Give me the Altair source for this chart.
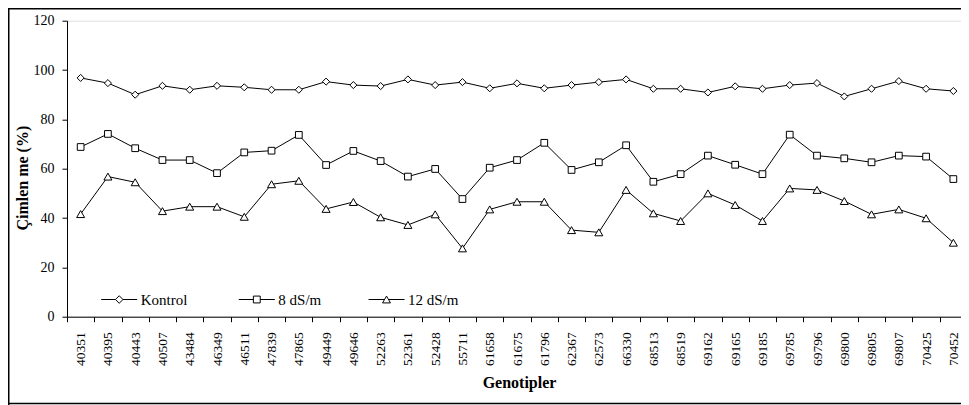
import altair as alt
import pandas as pd

genotypes = ["40351", "40395", "40443", "40507", "43484", "46349", "46511", "47839",
             "47865", "49449", "49646", "52263", "52361", "52428", "55711", "61658",
             "61675", "61796", "62367", "62573", "66330", "68513", "68519", "69162",
             "69165", "69185", "69785", "69796", "69800", "69805", "69807", "70425",
             "70452"]

kontrol = [96.8, 94.7, 90.0, 93.6, 92.0, 93.6, 93.0, 92.0, 92.0, 95.3, 93.9, 93.5,
           96.2, 93.9, 95.1, 92.6, 94.6, 92.6, 93.9, 95.1, 96.2, 92.4, 92.4, 90.9,
           93.4, 92.4, 93.9, 94.7, 89.3, 92.4, 95.5, 92.4, 91.5]

ds8 = [68.8, 74.1, 68.3, 63.5, 63.5, 58.2, 66.6, 67.3, 73.7, 61.5, 67.2, 63.1,
       56.8, 59.9, 47.7, 60.4, 63.5, 70.5, 59.5, 62.6, 69.5, 54.7, 57.8, 65.3,
       61.6, 57.8, 73.8, 65.3, 64.2, 62.6, 65.3, 64.9, 55.8]

ds12 = [41.6, 56.8, 54.5, 42.8, 44.6, 44.6, 40.5, 53.7, 55.1, 43.7, 46.5, 40.3,
        37.2, 41.5, 27.7, 43.5, 46.6, 46.6, 35.1, 34.2, 51.4, 41.9, 38.8, 50.0,
        45.3, 38.8, 52.0, 51.4, 46.9, 41.5, 43.5, 39.9, 30.0]

series_names = ["Kontrol", "8 dS/m", "12 dS/m"]
y_ticks = [0, 20, 40, 60, 80, 100, 120]

rows = []
for name, vals in zip(series_names, [kontrol, ds8, ds12]):
    for g, v in zip(genotypes, vals):
        rows.append({"Genotip": g, "Seri": name, "Deger": v})
df = pd.DataFrame(rows)

FONT = "Liberation Serif"

# marker style per series: (shape, size, legend symbol path, legend x)
styles = {
    "Kontrol": ("diamond", 50,
                "M-1,0L-0.21,0M0.21,0L1,0M-0.21,0L0,-0.21L0.21,0L0,0.21Z", 33.7),
    "8 dS/m": ("square", 45,
               "M-1,0L-0.19,0M0.19,0L1,0M-0.19,-0.19L0.19,-0.19L0.19,0.19L-0.19,0.19Z", 171.3),
    "12 dS/m": ("triangle-up", 64,
                "M-1,0L-0.11,0M0.11,0L1,0M0,-0.19L0.22,0.19L-0.22,0.19Z", 301),
}

x_enc = alt.X(
    "Genotip:N",
    sort=genotypes,
    scale=alt.Scale(type="band", paddingInner=0, paddingOuter=0, range=[0, 900]),
    axis=alt.Axis(
        title="Genotipler",
        labelAngle=270,
        tickBand="extent",
        tickSize=5,
        labelPadding=10,
        labelFontSize=13.5,
        labelFont=FONT,
        labelColor="black",
        titleFont=FONT,
        titleFontSize=16,
        titleFontWeight="bold",
        titleColor="black",
        titleBaseline="alphabetic",
        titleX=452,
        titleY=71,
        domainColor="black",
        tickColor="black",
        grid=False,
    ),
)

y_enc = alt.Y(
    "Deger:Q",
    scale=alt.Scale(domain=[0, 120], nice=False),
    axis=alt.Axis(
        title="Çimlen me (%)",
        values=y_ticks,
        tickSize=5,
        labelPadding=8,
        labelFontSize=14,
        labelFont=FONT,
        labelColor="black",
        titleFont=FONT,
        titleFontSize=16,
        titleFontWeight="bold",
        titleColor="black",
        titleAngle=270,
        titleBaseline="alphabetic",
        titleX=-40,
        titleY=157,
        domainColor="black",
        tickColor="black",
        grid=False,
    ),
)

lines = alt.Chart(df).mark_line(color="black", strokeWidth=1).encode(
    x=x_enc, y=y_enc, detail="Seri:N"
)

point_layers = []
for name in series_names:
    shp, sz, path, lx = styles[name]
    layer = alt.Chart(df).transform_filter(alt.datum.Seri == name).mark_point(
        filled=True, fill="white", shape=shp, size=sz, strokeWidth=1, opacity=1
    ).encode(
        x=x_enc,
        y=y_enc,
        stroke=alt.Stroke(
            "Seri:N",
            scale=alt.Scale(domain=[name], range=["black"]),
            legend=alt.Legend(
                orient="none",
                legendX=lx,
                legendY=260.3,
                title=None,
                padding=0,
                symbolType=path,
                symbolSize=1296,
                symbolStrokeWidth=1,
                symbolFillColor="white",
                labelFont=FONT,
                labelFontSize=15,
                labelColor="black",
                labelOffset=3,
            ),
        ),
    )
    point_layers.append(layer)

# outer chart frame (top, left, bottom edges; right edge is cropped in the reference)
one = alt.Data(values=[{"k": 1}])
frame_top = alt.Chart(one).mark_rule(color="black", strokeWidth=1.5).encode(
    x=alt.value(-59), x2=alt.value(1000), y=alt.value(-11.95)
)
frame_left = alt.Chart(one).mark_rule(color="black", strokeWidth=1.5).encode(
    x=alt.value(-58.25), y=alt.value(-12.7), y2=alt.value(384.3)
)
frame_bottom = alt.Chart(one).mark_rule(color="black", strokeWidth=1.5).encode(
    x=alt.value(-59), x2=alt.value(1000), y=alt.value(382.8)
)

chart = alt.layer(lines, *point_layers, frame_top, frame_left, frame_bottom).resolve_scale(
    stroke="independent"
).properties(
    width=894,
    height=296,
    autosize=alt.AutoSizeParams(type="none"),
    padding={"left": 59, "top": 12.7, "right": 0, "bottom": 88.3},
).configure_view(stroke="transparent").configure(font=FONT)

chart.save("out.html", embed_options={"renderer": "svg", "actions": False})
